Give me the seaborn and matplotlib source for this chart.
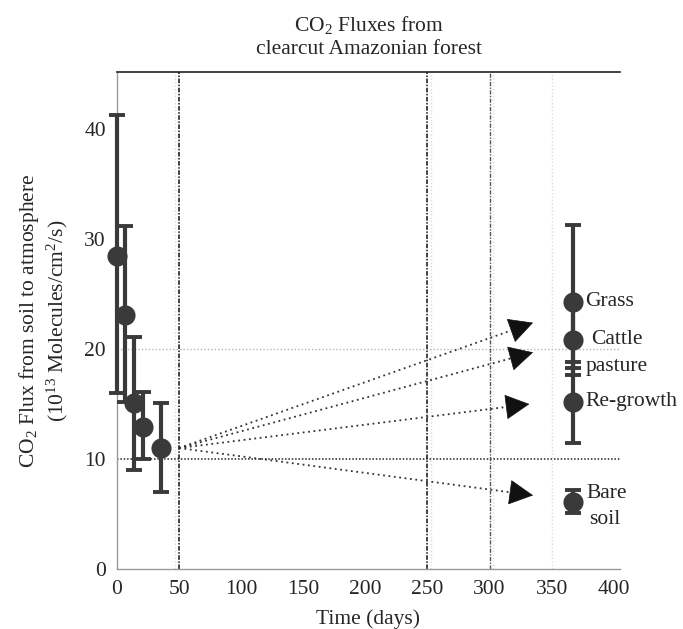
import matplotlib
matplotlib.use("Agg")
import matplotlib.pyplot as plt
import seaborn as sns
import pandas as pd
import numpy as np

# ---- data ----
early_days = [0, 6.5, 14, 21, 35.5]
early_flux = [28.5, 23.1, 15.1, 12.9, 11.0]
early_low = [16.0, 15.2, 9.0, 10.0, 7.0]
early_high = [41.3, 31.2, 21.1, 16.1, 15.1]

late_labels = ["Grass", "Cattle pasture", "Re-growth", "Bare soil"]
late_days = [367, 367, 367, 367]
late_flux = [24.3, 20.8, 15.2, 6.1]
late_low = [18.3, 17.6, 11.5, 5.1]
late_high = [31.3, 24.3, 18.8, 7.2]

arrow_start = (50, 11.0)
arrow_tip_x = [335, 335, 332, 335]
arrow_tip_y = [22.4, 19.7, 15.0, 6.7]

xticks = [0, 50, 100, 150, 200, 250, 300, 350, 400]
yticks = [0, 10, 20, 30, 40]

# ---- style ----
sns.set_style("white")
plt.rcParams["font.family"] = ["Liberation Serif", "DejaVu Serif"]
plt.rcParams["mathtext.fontset"] = "custom"
plt.rcParams["mathtext.rm"] = "Liberation Serif"
plt.rcParams["mathtext.it"] = "Liberation Serif:italic"

fig = plt.figure(figsize=(6.83, 6.29), dpi=100)
ax = fig.add_axes([117 / 683, 60 / 629, 503 / 683, 497 / 629])
ax.set_xlim(0, 405)
ax.set_ylim(0, 45.2)

mark_col = "#3a3a3a"
fs = 15.5

# reference lines
ax.axhline(20, color="#b5b5b5", lw=1.0, ls=(0, (1, 1.5)), zorder=1)
ax.axhline(10, color="#222222", lw=1.1, ls=(0, (1, 1.2)), zorder=1)
for xv in [47, 253, 303, 350]:
    ax.axvline(xv, color="#dddddd", lw=1.0, ls=(0, (1, 1.5)), zorder=0.5)
ax.axvline(50, color="#111111", lw=1.1, ls=(0, (3, 1, 1, 1)), zorder=1)
ax.axvline(250, color="#111111", lw=1.1, ls=(0, (3, 1, 1, 1)), zorder=1)
ax.axvline(300, color="#555555", lw=1.0, ls=(0, (3, 1, 1, 1)), zorder=1)

# error bars
e_df = pd.DataFrame({"day": early_days, "flux": early_flux,
                     "low": early_low, "high": early_high})
l_df = pd.DataFrame({"day": late_days, "flux": late_flux,
                     "low": late_low, "high": late_high, "label": late_labels})
for df in (e_df, l_df):
    yerr = np.vstack([df["flux"] - df["low"], df["high"] - df["flux"]])
    eb = ax.errorbar(df["day"], df["flux"], yerr=yerr, fmt="none", ecolor=mark_col,
                     elinewidth=3.0, capsize=5.5, capthick=2.8, zorder=3)
    for art in eb.lines[1] + eb.lines[2]:
        art.set_clip_on(False)
    for art in eb.lines[2]:
        art.set_clip_on(False)

for df in (e_df, l_df):
    sc = sns.scatterplot(data=df, x="day", y="flux", ax=ax, s=210, color=mark_col,
                         edgecolor=mark_col, linewidth=0, zorder=4, legend=False)
for coll in ax.collections:
    coll.set_clip_on(False)

# dotted arrows
for tx, ty in zip(arrow_tip_x, arrow_tip_y):
    sx, sy = arrow_start
    ax.plot([sx, tx - 8], [sy, sy + (ty - sy) * (tx - 8 - sx) / (tx - sx)],
            color="#333333", lw=1.3, ls=(0, (1, 2)), zorder=2)
    bx = tx - 12
    by = sy + (ty - sy) * (bx - sx) / (tx - sx)
    ax.annotate("", xy=(tx, ty), xytext=(bx, by),
                arrowprops=dict(arrowstyle="-|>,head_length=1.15,head_width=0.6",
                                color="#111111", lw=0.5, shrinkA=0, shrinkB=0,
                                mutation_scale=14),
                zorder=3)

# labels for late points
ax.text(377, 24.3, "Grass", fontsize=fs, va="center", ha="left")
ax.text(382, 20.9, "Cattle", fontsize=fs, va="center", ha="left")
ax.text(377, 18.4, "pasture", fontsize=fs, va="center", ha="left")
ax.text(377, 15.2, "Re-growth", fontsize=fs, va="center", ha="left")
ax.text(378, 6.9, "Bare", fontsize=fs, va="center", ha="left")
ax.text(380, 4.5, "soil", fontsize=fs, va="center", ha="left")

# axes styling
ax.set_xticks(xticks)
ax.set_yticks(yticks)
ax.tick_params(axis="both", length=0, labelsize=fs, pad=8)
for s in ["left", "bottom"]:
    ax.spines[s].set_color("#9a9a9a")
    ax.spines[s].set_linewidth(1.0)
    ax.spines[s].set_zorder(2)
ax.spines["top"].set_color("#222222")
ax.spines["top"].set_linewidth(1.2)
ax.spines["right"].set_visible(False)
ax.grid(False)

ax.set_xlabel("Time (days)", fontsize=fs, labelpad=7)
ax.set_ylabel("CO$_2$ Flux from soil to atmosphere\n(10$^{13}$ Molecules/cm$^2$/s)",
              fontsize=fs, labelpad=10, linespacing=1.2)
ax.set_title("CO$_2$ Fluxes from\nclearcut Amazonian forest", fontsize=fs,
             pad=13, linespacing=1.3)

fig.savefig("out.png", dpi=100)
